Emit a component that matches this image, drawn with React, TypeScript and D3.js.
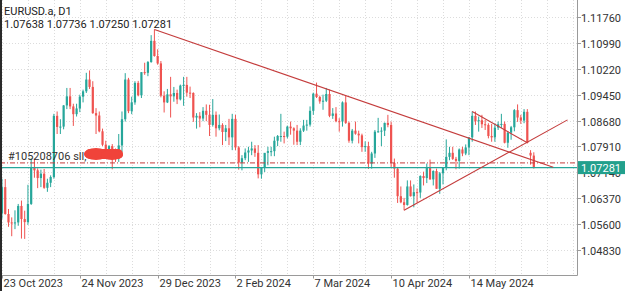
import { useEffect, useRef } from "react";
import * as d3 from "d3";

// daily candles, 23 Oct 2023 .. 11 Jun 2024 (trading days only), [open, high, low, close]
const candles: [number, number, number, number][] = [
  // Oct 23 - Oct 27
  [1.0592, 1.0695, 1.0576, 1.067], [1.067, 1.0694, 1.0588, 1.059], [1.059, 1.0605, 1.0552, 1.0565], [1.0565, 1.058, 1.0524, 1.0564], [1.0564, 1.0601, 1.0545, 1.0565],
  // Oct 30 - Nov 3
  [1.0565, 1.062, 1.0555, 1.0614], [1.0614, 1.063, 1.0517, 1.0575], [1.0575, 1.06, 1.0516, 1.0566], [1.0566, 1.0677, 1.0558, 1.062], [1.062, 1.0756, 1.0617, 1.0727],
  // Nov 6 - Nov 10
  [1.0727, 1.0755, 1.0698, 1.072], [1.072, 1.0726, 1.0667, 1.0697], [1.0697, 1.0722, 1.067, 1.071], [1.071, 1.0724, 1.0665, 1.0668], [1.0668, 1.0695, 1.0656, 1.0683],
  // Nov 13 - Nov 17
  [1.0683, 1.0705, 1.067, 1.07], [1.07, 1.0888, 1.0695, 1.0882], [1.0882, 1.0895, 1.0828, 1.0849], [1.0849, 1.0872, 1.0828, 1.085], [1.085, 1.0914, 1.0842, 1.0913],
  // Nov 20 - Nov 24
  [1.0913, 1.0965, 1.0902, 1.094], [1.094, 1.0965, 1.0902, 1.091], [1.091, 1.0918, 1.0852, 1.0887], [1.0887, 1.0918, 1.088, 1.0904], [1.0904, 1.0945, 1.0893, 1.0939],
  // Nov 27 - Dec 1
  [1.0939, 1.096, 1.0922, 1.0955], [1.0955, 1.101, 1.095, 1.099], [1.099, 1.1017, 1.0962, 1.0968], [1.0968, 1.0985, 1.0888, 1.089], [1.089, 1.0905, 1.0828, 1.0883],
  // Dec 4 - Dec 8
  [1.0883, 1.0895, 1.0833, 1.0836], [1.0836, 1.0844, 1.0792, 1.0796], [1.0796, 1.0808, 1.0765, 1.0766], [1.0766, 1.0795, 1.0753, 1.0792], [1.0792, 1.0798, 1.0723, 1.0763],
  // Dec 11 - Dec 15
  [1.0763, 1.0785, 1.0745, 1.0762], [1.0762, 1.0828, 1.0745, 1.0794], [1.0794, 1.0895, 1.0773, 1.0872], [1.0872, 1.1009, 1.0865, 1.099], [1.099, 1.0995, 1.089, 1.0896],
  // Dec 18 - Dec 22
  [1.0896, 1.0939, 1.0887, 1.0922], [1.0922, 1.0985, 1.0915, 1.098], [1.098, 1.0986, 1.094, 1.0943], [1.0943, 1.1012, 1.0935, 1.1012], [1.1012, 1.104, 1.1004, 1.101],
  // Dec 26 - Dec 29
  [1.101, 1.1045, 1.1, 1.1042], [1.1042, 1.1122, 1.104, 1.1105], [1.1105, 1.1139, 1.1058, 1.106], [1.106, 1.108, 1.1034, 1.1038],
  // Jan 2 - Jan 5
  [1.1038, 1.1045, 1.0937, 1.0942], [1.0942, 1.0955, 1.0892, 1.0922], [1.0922, 1.0962, 1.092, 1.0946], [1.0946, 1.0998, 1.0877, 1.094],
  // Jan 8 - Jan 12
  [1.094, 1.0968, 1.0924, 1.095], [1.095, 1.096, 1.0917, 1.0931], [1.0931, 1.0975, 1.0928, 1.0972], [1.0972, 1.0998, 1.0912, 1.0974], [1.0974, 1.0998, 1.0939, 1.0951],
  // Jan 15 - Jan 19
  [1.0951, 1.0969, 1.0935, 1.095], [1.095, 1.0952, 1.0864, 1.0877], [1.0877, 1.089, 1.0844, 1.0882], [1.0882, 1.0893, 1.0848, 1.0874], [1.0874, 1.0908, 1.0866, 1.0897],
  // Jan 22 - Jan 26
  [1.0897, 1.0916, 1.0866, 1.0885], [1.0885, 1.0915, 1.0822, 1.0855], [1.0855, 1.0932, 1.085, 1.0885], [1.0885, 1.0895, 1.082, 1.0845], [1.0845, 1.0886, 1.0839, 1.0855],
  // Jan 29 - Feb 2
  [1.0855, 1.086, 1.0795, 1.0834], [1.0834, 1.0855, 1.0807, 1.0845], [1.0845, 1.0873, 1.0795, 1.0818], [1.0818, 1.0888, 1.078, 1.0873], [1.0873, 1.0885, 1.078, 1.0788],
  // Feb 5 - Feb 9
  [1.0788, 1.0792, 1.0722, 1.0743], [1.0743, 1.0765, 1.072, 1.0756], [1.0756, 1.0785, 1.075, 1.0773], [1.0773, 1.079, 1.0745, 1.0779], [1.0779, 1.0805, 1.0765, 1.0785],
  // Feb 12 - Feb 16
  [1.0785, 1.0795, 1.076, 1.0772], [1.0772, 1.0795, 1.0696, 1.0708], [1.0708, 1.073, 1.0695, 1.0727], [1.0727, 1.077, 1.0715, 1.0772], [1.0772, 1.079, 1.0735, 1.0777],
  // Feb 19 - Feb 23
  [1.0777, 1.079, 1.0762, 1.0777], [1.0777, 1.082, 1.0762, 1.0808], [1.0808, 1.0825, 1.0792, 1.0822], [1.0822, 1.0888, 1.0805, 1.0822], [1.0822, 1.0835, 1.08, 1.082],
  // Feb 26 - Mar 1
  [1.082, 1.0853, 1.0815, 1.085], [1.085, 1.0865, 1.0826, 1.0845], [1.0845, 1.0848, 1.0796, 1.0838], [1.0838, 1.0855, 1.0795, 1.0805], [1.0805, 1.0845, 1.0795, 1.0838],
  // Mar 4 - Mar 8
  [1.0838, 1.087, 1.0834, 1.0853], [1.0853, 1.087, 1.0838, 1.0856], [1.0856, 1.091, 1.085, 1.0897], [1.0897, 1.0951, 1.0885, 1.0948], [1.0948, 1.0981, 1.0935, 1.0938],
  // Mar 11 - Mar 15
  [1.0938, 1.0942, 1.0918, 1.0925], [1.0925, 1.0945, 1.09, 1.0927], [1.0927, 1.0965, 1.0923, 1.0947], [1.0947, 1.096, 1.0878, 1.0882], [1.0882, 1.0905, 1.0873, 1.0889],
  // Mar 18 - Mar 22
  [1.0889, 1.0908, 1.0863, 1.0866], [1.0866, 1.0875, 1.0835, 1.0865], [1.0865, 1.0925, 1.085, 1.0922], [1.0922, 1.0942, 1.0858, 1.0861], [1.0861, 1.0865, 1.0802, 1.0808],
  // Mar 25 - Mar 29
  [1.0808, 1.0843, 1.08, 1.0838], [1.0838, 1.0865, 1.0826, 1.0829], [1.0829, 1.0838, 1.08, 1.0824], [1.0824, 1.0829, 1.0775, 1.0789], [1.0789, 1.0806, 1.0775, 1.0792],
  // Apr 1 - Apr 5
  [1.0792, 1.0805, 1.0724, 1.074], [1.074, 1.0775, 1.0725, 1.077], [1.077, 1.084, 1.0757, 1.0835], [1.0835, 1.0876, 1.0832, 1.0836], [1.0836, 1.0848, 1.0792, 1.0838],
  // Apr 8 - Apr 12
  [1.0838, 1.0862, 1.0822, 1.0861], [1.0861, 1.0885, 1.0848, 1.0855], [1.0855, 1.0865, 1.0727, 1.0742], [1.0742, 1.0755, 1.0698, 1.0725], [1.0725, 1.073, 1.0623, 1.0643],
  // Apr 15 - Apr 19
  [1.0643, 1.0672, 1.0622, 1.0625], [1.0625, 1.0638, 1.0601, 1.0617], [1.0617, 1.069, 1.0615, 1.0672], [1.0672, 1.069, 1.0642, 1.0643], [1.0643, 1.0678, 1.061, 1.0655],
  // Apr 22 - Apr 26
  [1.0655, 1.0666, 1.0624, 1.0654], [1.0654, 1.0705, 1.0638, 1.0703], [1.0703, 1.0716, 1.0675, 1.0697], [1.0697, 1.074, 1.0682, 1.073], [1.073, 1.0752, 1.0692, 1.0693],
  // Apr 29 - May 3
  [1.0693, 1.072, 1.0675, 1.0718], [1.0718, 1.0725, 1.0665, 1.0665], [1.0665, 1.0715, 1.065, 1.0711], [1.0711, 1.0728, 1.0678, 1.0727], [1.0727, 1.0812, 1.072, 1.076],
  // May 6 - May 10
  [1.076, 1.079, 1.075, 1.0772], [1.0772, 1.079, 1.0751, 1.0754], [1.0754, 1.076, 1.0723, 1.0748], [1.0748, 1.0785, 1.0725, 1.0782], [1.0782, 1.079, 1.0762, 1.077],
  // May 13 - May 17
  [1.077, 1.0797, 1.0765, 1.0788], [1.0788, 1.0818, 1.0765, 1.0818], [1.0818, 1.0895, 1.0805, 1.0882], [1.0882, 1.0895, 1.0855, 1.0866], [1.0866, 1.088, 1.0835, 1.0869],
  // May 20 - May 24
  [1.0869, 1.0885, 1.0846, 1.0857], [1.0857, 1.087, 1.084, 1.0855], [1.0855, 1.086, 1.0815, 1.0822], [1.0822, 1.0858, 1.0805, 1.0818], [1.0818, 1.0859, 1.0805, 1.0847],
  // May 27 - May 31
  [1.0847, 1.0865, 1.084, 1.0857], [1.0857, 1.0888, 1.0846, 1.0858], [1.0858, 1.0865, 1.08, 1.0802], [1.0802, 1.0836, 1.0787, 1.0832], [1.0832, 1.0852, 1.0811, 1.0848],
  // Jun 3 - Jun 7
  [1.0848, 1.0902, 1.0836, 1.0899], [1.0899, 1.0916, 1.0864, 1.0877], [1.0877, 1.0885, 1.0858, 1.0868], [1.0868, 1.0902, 1.086, 1.0894], [1.0894, 1.0902, 1.08, 1.0802],
  // Jun 10 - Jun 11
  [1.0772, 1.078, 1.0737, 1.0764], [1.07638, 1.07736, 1.0725, 1.07281],
];

const dateTickIndex = [0, 24, 48, 72, 96, 120, 144];
const dateTickLabels = ["23 Oct 2023", "24 Nov 2023", "29 Dec 2023", "2 Feb 2024", "7 Mar 2024", "10 Apr 2024", "14 May 2024"];

const priceTicks = [1.1176, 1.1099, 1.1022, 1.0945, 1.0868, 1.0791, 1.0714, 1.0637, 1.056, 1.0483];

// trend lines drawn on chart: [startIndex, startPrice, endIndex, endPrice]
const trendLines: [number, number, number, number][] = [
  [47, 1.1139, 170, 1.0729],
  [124, 1.0601, 174.4, 1.087],
  [145, 1.0895, 162, 1.0802],
];

const symbolTitle = "EURUSD.a, D1";
const lastPrice = 1.07281;
const orderPrice = 1.0742;
const orderLabel = "#105208706 sll,";

const W = 625;
const H = 291;

export default function App() {
  const svgRef = useRef<SVGSVGElement>(null);

  useEffect(() => {
    const svg = d3.select(svgRef.current);
    svg.selectAll("*").remove();

    const axisX = 577;
    const axisY = 275.5;
    const font = "Roboto, 'Noto Sans', sans-serif";
    const bull = "#26a69a";
    const bear = "#ef5350";
    const lineRed = "#c43c3c";

    const x = d3.scaleLinear().domain([0, 164]).range([2, 533.8]);
    const y = d3.scaleLinear().domain([1.0483, 1.1176]).range([250, 17]);

    svg.append("rect").attr("width", W).attr("height", H).attr("fill", "#fff");

    // grid
    const grid = svg.append("g").attr("stroke", "#dcdcdc").attr("stroke-dasharray", "1,2");
    priceTicks.forEach((p) => {
      grid.append("line").attr("x1", 0).attr("x2", axisX).attr("y1", Math.round(y(p)) + 0.5).attr("y2", Math.round(y(p)) + 0.5);
    });
    d3.range(0, 178, 8).forEach((i) => {
      grid.append("line").attr("x1", Math.round(x(i)) + 0.5).attr("x2", Math.round(x(i)) + 0.5).attr("y1", 0).attr("y2", axisY);
    });

    // candles
    const g = svg.append("g");
    candles.forEach((c, i) => {
      const [o, h, l, cl] = c;
      const col = cl >= o ? bull : bear;
      const cx = x(i);
      g.append("line")
        .attr("x1", cx).attr("x2", cx)
        .attr("y1", y(h)).attr("y2", y(l))
        .attr("stroke", col).attr("stroke-width", 1);
      const top = y(Math.max(o, cl));
      const bh = Math.max(1, Math.abs(y(o) - y(cl)));
      g.append("rect")
        .attr("x", cx - 1.1).attr("y", top)
        .attr("width", 2.2).attr("height", bh)
        .attr("fill", col);
    });

    // order line (dash-dot) and current price line
    svg.append("line")
      .attr("x1", 0).attr("x2", axisX)
      .attr("y1", y(orderPrice)).attr("y2", y(orderPrice))
      .attr("stroke", "#c43c3c").attr("stroke-width", 1)
      .attr("stroke-dasharray", "5,2,1,2");
    svg.append("line")
      .attr("x1", 0).attr("x2", axisX)
      .attr("y1", y(lastPrice)).attr("y2", y(lastPrice))
      .attr("stroke", "#26a69a").attr("stroke-width", 1.2);

    // trend lines
    trendLines.forEach(([i0, p0, i1, p1]) => {
      svg.append("line")
        .attr("x1", x(i0)).attr("y1", y(p0))
        .attr("x2", x(i1)).attr("y2", y(p1))
        .attr("stroke", lineRed).attr("stroke-width", 1.1);
    });

    // order label + scribble
    const oy = y(orderPrice);
    svg.append("text")
      .attr("x", 8).attr("y", oy - 3)
      .attr("font-family", font).attr("font-size", 11).attr("fill", "#333")
      .text(orderLabel);
    const blob = svg.append("g").attr("fill", "#f0433a");
    blob.append("rect").attr("x", 85).attr("y", oy - 14).attr("width", 38).attr("height", 10).attr("rx", 5);
    blob.append("ellipse").attr("cx", 96).attr("cy", oy - 9).attr("rx", 12).attr("ry", 6);
    blob.append("ellipse").attr("cx", 112).attr("cy", oy - 8).attr("rx", 11).attr("ry", 5);

    // axes
    svg.append("line").attr("x1", axisX + 0.5).attr("x2", axisX + 0.5).attr("y1", 0).attr("y2", axisY).attr("stroke", "#9a9a9a");
    svg.append("line").attr("x1", 0).attr("x2", axisX + 0.5).attr("y1", axisY).attr("y2", axisY).attr("stroke", "#9a9a9a");

    priceTicks.forEach((p) => {
      const ty = Math.round(y(p)) + 0.5;
      svg.append("line").attr("x1", axisX).attr("x2", axisX + 4).attr("y1", ty).attr("y2", ty).attr("stroke", "#9a9a9a");
      svg.append("text")
        .attr("x", axisX + 4).attr("y", ty + 4)
        .attr("font-family", font).attr("font-size", 11).attr("fill", "#333")
        .text(p.toFixed(5));
    });

    dateTickIndex.forEach((idx, k) => {
      const tx = Math.round(x(idx)) + 0.5;
      svg.append("line").attr("x1", tx).attr("x2", tx).attr("y1", axisY).attr("y2", axisY + 3).attr("stroke", "#9a9a9a");
      svg.append("text")
        .attr("x", tx + 1).attr("y", 287)
        .attr("font-family", font).attr("font-size", 11).attr("fill", "#333")
        .text(dateTickLabels[k]);
    });

    // current price badge
    const ly = y(lastPrice);
    svg.append("rect").attr("x", axisX + 1).attr("y", ly - 6.5).attr("width", W - axisX - 1).attr("height", 13).attr("fill", "#22a08c");
    svg.append("text")
      .attr("x", axisX + 4).attr("y", ly + 4)
      .attr("font-family", font).attr("font-size", 11).attr("fill", "#fff")
      .text(lastPrice.toFixed(5));

    // title
    const last = candles[candles.length - 1];
    svg.append("text").attr("x", 4).attr("y", 15)
      .attr("font-family", font).attr("font-size", 11).attr("fill", "#222")
      .text(symbolTitle);
    svg.append("text").attr("x", 4).attr("y", 28)
      .attr("font-family", font).attr("font-size", 11).attr("fill", "#222")
      .text(last.map((v) => v.toFixed(5)).join(" "));

    // left screen edge
    svg.append("rect").attr("x", 0).attr("y", 0).attr("width", 2).attr("height", H).attr("fill", "#2a2a2a");
  }, []);

  return (
    <svg
      ref={svgRef}
      width={W}
      height={H}
      style={{ position: "absolute", left: 0, top: 0, display: "block" }}
    ></svg>
  );
}
